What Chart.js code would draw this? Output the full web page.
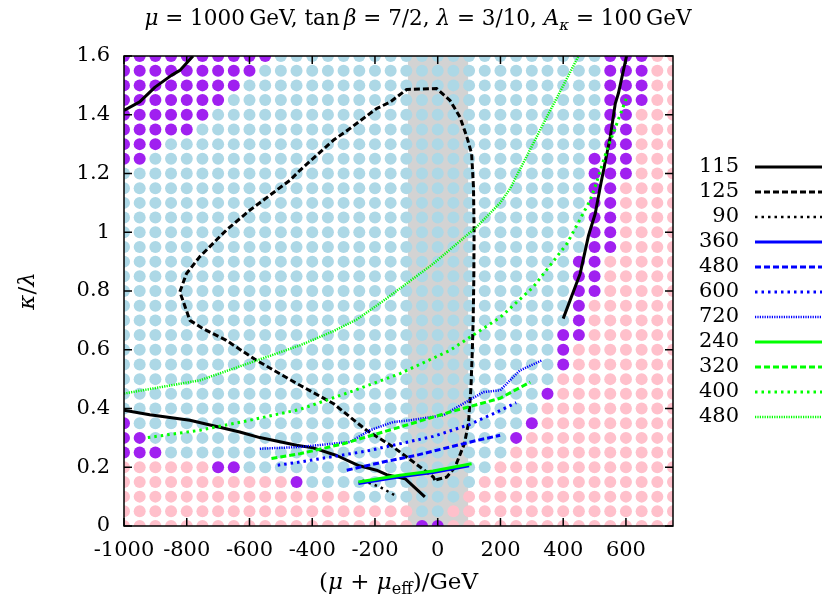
<!DOCTYPE html>
<html>
<head>
<meta charset="utf-8">
<script src="https://cdn.jsdelivr.net/npm/chart.js@4.4.1/dist/chart.umd.min.js"></script>
<style>
  html, body { margin: 0; padding: 0; background: #fff; }
</style>
</head>
<body>
<canvas id="scan" width="823" height="603"></canvas>
<script>
// scan grid
const gridX = [-1000, -950, -900, -850, -800, -750, -700, -650, -600, -550, -500, -450,
  -400, -350, -300, -250, -200, -150, -100, -50, 0, 50, 100, 150, 200, 250, 300, 350,
  400, 450, 500, 550, 600, 650, 700, 750];
const gridY = [1.6, 1.55, 1.5, 1.45, 1.4, 1.35, 1.3, 1.25, 1.2, 1.15, 1.1, 1.05, 1.0,
  0.95, 0.9, 0.85, 0.8, 0.75, 0.7, 0.65, 0.6, 0.55, 0.5, 0.45, 0.4, 0.35, 0.3, 0.25,
  0.2, 0.15, 0.1, 0.05, 0];
// one string per row of gridY, one char per column of gridX
// "." allowed, "p" excluded, "m" tachyonic
const gridClass = [
  "mmmmmmmmmm.....................mmmpp",
  "mmmmmmmmm......................mmmpp",
  "mmmmmmmm.......................mmmpp",
  "mmmmmmm........................mmmpp",
  "mmmmmm.........................mmppp",
  "mmmmm..........................mmppp",
  "mmm............................mmppp",
  "mm............................mmmppp",
  "..............................mmmppp",
  "..............................mmpppp",
  "..............................mmpppp",
  "..............................mmpppp",
  "..............................mmpppp",
  "..............................mmpppp",
  ".............................mmppppp",
  ".............................mmppppp",
  ".............................mmppppp",
  ".............................mpppppp",
  ".............................mpppppp",
  "............................mmpppppp",
  "............................mppppppp",
  "............................mppppppp",
  "............................pppppppp",
  "...........................mpppppppp",
  "...........................ppppppppp",
  "m.........................mppppppppp",
  "mm.......................mpppppppppp",
  "mmm......................ppppppppppp",
  "ppppppmm................pppppppppppp",
  "pppppppppppm...........ppppppppppppp",
  "ppppppppppppppp.......pppppppppppppp",
  "ppppppppppppppppppp..ppppppppppppppp",
  "pppppppppppppppppppmmppppppppppppppp"
];
const band = [-95, 97];

const xTicks = [-1000, -800, -600, -400, -200, 0, 200, 400, 600];
const yTicks = [0, 0.2, 0.4, 0.6, 0.8, 1.0, 1.2, 1.4, 1.6];
const yTickLabels = ["0", "0.2", "0.4", "0.6", "0.8", "1", "1.2", "1.4", "1.6"];

// mass contours (GeV)
const h115a = [[-1000, 1.415], [-950, 1.444], [-901, 1.494], [-849, 1.534], [-822, 1.551], [-780, 1.6]];
const h115b = [[400, 0.706], [454, 0.859], [481, 0.99], [502, 1.063], [520, 1.165], [550, 1.324], [566, 1.438], [576, 1.473], [602, 1.6]];
const h115c = [[-1000, 0.394], [-918, 0.379], [-790, 0.36], [-705, 0.339], [-631, 0.32], [-567, 0.301], [-450, 0.275],
  [-397, 0.266], [-322, 0.24], [-250, 0.205], [-195, 0.19], [-163, 0.175], [-104, 0.161], [-41, 0.099]];
const h125 = [[-9, 0.156], [-14, 0.167], [-99, 0.235], [-142, 0.269], [-227, 0.326], [-333, 0.417], [-439, 0.479],
  [-578, 0.564], [-674, 0.632], [-748, 0.672], [-790, 0.70], [-822, 0.797], [-801, 0.859], [-759, 0.916],
  [-674, 1.007], [-599, 1.075], [-471, 1.177], [-439, 1.211], [-333, 1.313], [-280, 1.353], [-195, 1.421],
  [-152, 1.443], [-99, 1.486], [-3, 1.489], [39, 1.449], [71, 1.392], [93, 1.324], [108, 1.268], [114, 1.154],
  [116, 1.007], [115, 0.836], [113, 0.7], [110, 0.587], [106, 0.473], [98, 0.349], [85, 0.28], [70, 0.24],
  [55, 0.2], [29, 0.167], [-9, 0.156]];
const h90 = [[-240, 0.155], [-184, 0.133], [-136, 0.104]];
const a360 = [[-253, 0.145], [-120, 0.168], [-15, 0.182], [100, 0.205]];
const a480 = [[-290, 0.19], [-174, 0.218], [-67, 0.241], [39, 0.269], [120, 0.29], [199, 0.309]];
const a600 = [[-510, 0.207], [-439, 0.218], [-227, 0.255], [-14, 0.305], [100, 0.345], [199, 0.393], [250, 0.42]];
const a720 = [[-567, 0.263], [-439, 0.269], [-280, 0.286], [-216, 0.326], [-142, 0.354], [-88, 0.36], [18, 0.377],
  [82, 0.417], [146, 0.456], [199, 0.462], [262, 0.53], [332, 0.564]];
const c240 = [[-253, 0.15], [-120, 0.173], [-15, 0.187], [108, 0.212]];
const c320 = [[-530, 0.23], [-439, 0.246], [-301, 0.28], [-120, 0.337], [39, 0.388], [199, 0.435], [295, 0.49]];
const c400 = [[-924, 0.301], [-758, 0.326], [-599, 0.36], [-439, 0.397], [-280, 0.456], [-120, 0.519], [39, 0.598],
  [199, 0.71], [305, 0.814], [412, 0.961], [486, 1.109], [505, 1.165], [539, 1.279], [571, 1.37], [601, 1.455]];
const c480 = [[-1000, 0.451], [-758, 0.496], [-439, 0.615], [-333, 0.663], [-258, 0.703], [-174, 0.766], [-14, 0.893],
  [124, 1.018], [199, 1.1], [231, 1.149], [337, 1.37], [449, 1.6]];

const contours = [
  { label: "115", color: "#000000", width: 3, dash: [], parts: [h115a, h115b, h115c] },
  { label: "125", color: "#000000", width: 3, dash: [6, 3], parts: [h125] },
  { label: "90", color: "#000000", width: 2.5, dash: [2.5, 4], parts: [h90] },
  { label: "360", color: "#0000ff", width: 3, dash: [], parts: [a360] },
  { label: "480", color: "#0000ff", width: 3, dash: [6, 3], parts: [a480] },
  { label: "600", color: "#0000ff", width: 3, dash: [2.5, 4], parts: [a600] },
  { label: "720", color: "#0000ff", width: 2.5, dash: [1.2, 1.2], parts: [a720] },
  { label: "240", color: "#00ff00", width: 3, dash: [], parts: [c240] },
  { label: "320", color: "#00ff00", width: 3, dash: [6, 3], parts: [c320] },
  { label: "400", color: "#00ff00", width: 3, dash: [2.5, 4], parts: [c400] },
  { label: "480", color: "#00ff00", width: 2.5, dash: [1.2, 1.2], parts: [c480] }
];

const dotColors = { ".": "#add8e6", "p": "#ffc0cb", "m": "#a020f0" };

const serif = "'DejaVu Serif', serif";
function font(size, italic) {
  return (italic ? "italic " : "") + size + "px " + serif;
}

// draw a run of roman / italic / subscript pieces
function drawRich(ctx, parts, x, y, size, align) {
  let total = 0;
  const runs = parts.map(([t, st]) => {
    const sub = st[0] === "s";
    const it = st === "i" || st === "s";
    const sz = sub ? size * 0.7 : size;
    ctx.font = font(sz, it);
    const w = ctx.measureText(t).width;
    total += w;
    return { t, sub, it, sz, w };
  });
  let cx = align === "center" ? x - total / 2 : x;
  ctx.textAlign = "left";
  ctx.textBaseline = "alphabetic";
  runs.forEach(r => {
    ctx.font = font(r.sz, r.it);
    ctx.fillText(r.t, cx, r.sub ? y + size * 0.22 : y);
    cx += r.w;
  });
}

// dot datasets, one per class
const dotSets = Object.keys(dotColors).map(k => {
  const pts = [];
  gridClass.forEach((row, j) => {
    for (let i = 0; i < row.length; i++) {
      if (row[i] === k) pts.push({ x: gridX[i], y: gridY[j] });
    }
  });
  return {
    data: pts,
    pointRadius: 6,
    pointBorderWidth: 0,
    pointBackgroundColor: dotColors[k],
    showLine: false,
    order: 1000
  };
});

const lineSets = [];
contours.forEach((c, idx) => {
  c.parts.forEach(p => {
    lineSets.push({
      data: p.map(([x, y]) => ({ x, y })),
      showLine: true,
      pointRadius: 0,
      borderColor: c.color,
      borderWidth: c.width,
      borderDash: c.dash,
      borderCapStyle: "butt",
      borderJoinStyle: "round",
      tension: 0,
      fill: false,
      order: 100 - idx
    });
  });
});

const decor = {
  id: "decor",
  beforeDatasetsDraw(chart) {
    const { ctx, chartArea: a, scales: { x } } = chart;
    ctx.save();
    ctx.fillStyle = "#d3d3d3";
    const x0 = x.getPixelForValue(band[0]), x1 = x.getPixelForValue(band[1]);
    ctx.fillRect(x0, a.top, x1 - x0, a.bottom - a.top);
    ctx.restore();
  },
  afterDatasetsDraw(chart) {
    const { ctx, chartArea: a, scales: { x, y } } = chart;
    ctx.save();
    ctx.strokeStyle = "#000";
    ctx.lineWidth = 1.5;
    ctx.strokeRect(a.left, a.top, a.right - a.left, a.bottom - a.top);
    ctx.beginPath();
    xTicks.forEach(v => {
      const px = x.getPixelForValue(v);
      ctx.moveTo(px, a.bottom); ctx.lineTo(px, a.bottom - 8);
      ctx.moveTo(px, a.top); ctx.lineTo(px, a.top + 8);
    });
    yTicks.forEach(v => {
      const py = y.getPixelForValue(v);
      ctx.moveTo(a.left, py); ctx.lineTo(a.left + 8, py);
      ctx.moveTo(a.right, py); ctx.lineTo(a.right - 8, py);
    });
    ctx.stroke();
    ctx.restore();
  },
  afterDraw(chart) {
    const { ctx, chartArea: a } = chart;
    const mid = (a.left + a.right) / 2;
    ctx.save();
    ctx.fillStyle = "#000";
    drawRich(ctx, [["μ", "i"], [" = 1000\u2009GeV, tan\u2009", "r"], ["β", "i"], [" = 7/2, ", "r"],
      ["λ", "i"], [" = 3/10, ", "r"], ["A", "i"], ["κ", "s"], [" = 100\u2009GeV", "r"]], 418, 25, 21.5, "center");
    drawRich(ctx, [["(", "r"], ["μ", "i"], [" + ", "r"], ["μ", "i"], ["eff", "sr"], [")/GeV", "r"]], mid, 589, 23, "center");
    ctx.save();
    ctx.translate(34, (a.top + a.bottom) / 2);
    ctx.rotate(-Math.PI / 2);
    drawRich(ctx, [["κ", "i"], ["/", "r"], ["λ", "i"]], 0, 0, 23, "center");
    ctx.restore();

    // key
    contours.forEach((c, i) => {
      const yy = 167 + i * 25;
      ctx.font = font(21, false);
      ctx.textAlign = "right";
      ctx.textBaseline = "middle";
      ctx.fillStyle = "#000";
      ctx.fillText(c.label, 739, yy);
      ctx.beginPath();
      ctx.strokeStyle = c.color;
      ctx.lineWidth = c.width;
      ctx.setLineDash(c.dash);
      ctx.moveTo(755, yy);
      ctx.lineTo(822, yy);
      ctx.stroke();
      ctx.setLineDash([]);
    });
    ctx.restore();
  }
};

new Chart(document.getElementById("scan"), {
  type: "scatter",
  data: { datasets: [...lineSets, ...dotSets] },
  options: {
    responsive: false,
    animation: false,
    events: [],
    layout: { padding: { top: 56, right: 150, left: 0, bottom: 0 } },
    plugins: { legend: { display: false }, tooltip: { enabled: false } },
    scales: {
      x: {
        type: "linear", min: -1000, max: 750,
        afterBuildTicks: s => { s.ticks = xTicks.map(v => ({ value: v })); },
        afterFit: s => { s.height = 77; },
        grid: { display: false, drawTicks: false },
        border: { display: false },
        ticks: { font: { family: serif, size: 21 }, color: "#000", padding: 12, maxRotation: 0, callback: v => String(v) }
      },
      y: {
        type: "linear", min: 0, max: 1.6,
        afterBuildTicks: s => { s.ticks = yTicks.map(v => ({ value: v })); },
        afterFit: s => { s.width = 124; },
        grid: { display: false, drawTicks: false },
        border: { display: false },
        ticks: { font: { family: serif, size: 21 }, color: "#000", padding: 14, callback: (v, i) => yTickLabels[i] }
      }
    }
  },
  plugins: [decor]
});
</script>
</body>
</html>
